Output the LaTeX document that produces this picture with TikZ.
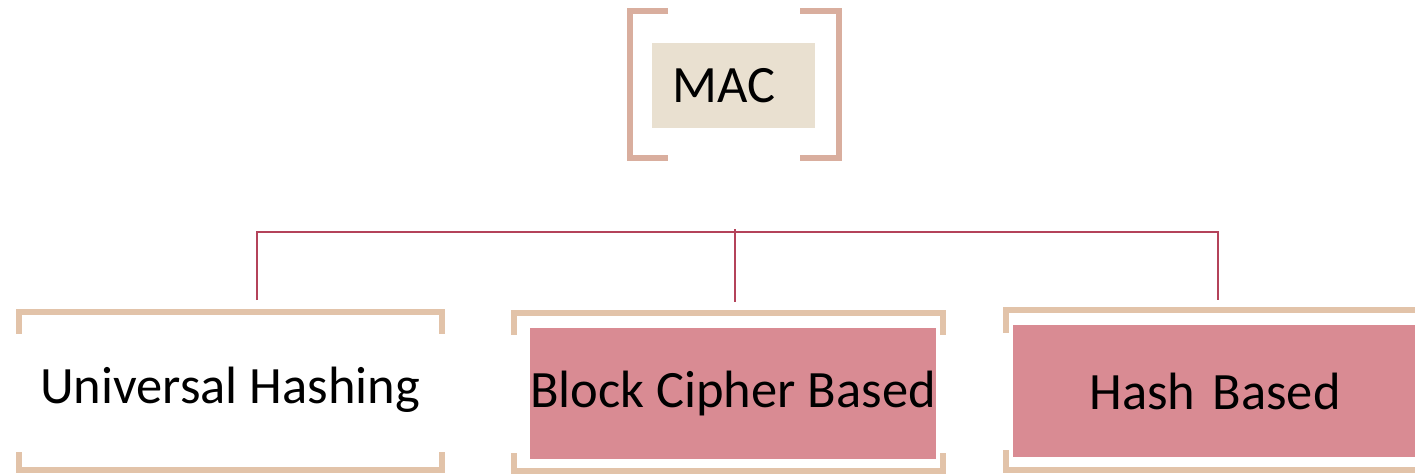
\documentclass[tikz,border=0pt]{standalone}
\usepackage{fontspec}
\setmainfont{Carlito}
\definecolor{topbracket}{HTML}{D9AE9E}
\definecolor{boxbracket}{HTML}{E2C3A9}
\definecolor{macfill}{HTML}{E9E0D0}
\definecolor{rosefill}{HTML}{D98B93}
\definecolor{treeline}{HTML}{B4435A}
\begin{document}
\begin{tikzpicture}[x=1pt,y=-1pt,
  label font/.style={font=\fontsize{52.5}{58}\selectfont, text=black},
  rosebox/.style={label font, fill=rosefill, inner sep=0pt},
  macbox/.style={label font, fill=macfill, inner sep=0pt},
  topbr/.style={draw=topbracket, line width=6pt},
  boxbr/.style={draw=boxbracket, line width=6pt},
  tree/.style={draw=treeline, line width=2pt}]
\useasboundingbox (0,0) rectangle (1415,475);

% top entry
\node[macbox, anchor=west, minimum height=85pt, text width=123pt,
      inner xsep=20pt, align=left] (mac) at (652,85.5) {MAC};
\draw[topbr] (668,11) -- (630,11) -- (630,158) -- (668,158);
\draw[topbr] (800,11) -- (839,11) -- (839,158) -- (800,158);

% three families
\node[label font, inner sep=0pt] (uh) at (230,390) {Universal Hashing};
\node[rosebox, minimum width=406pt, minimum height=131pt] (bc) at (733,393.5) {Block Cipher Based};
\node[rosebox, minimum width=404pt, minimum height=132pt, text width=396pt,
      align=center] (hb) at (1215,391) {Hash Based};

% brackets round the families
\draw[boxbr] (19,334) -- (19,312) -- (442,312) -- (442,334);
\draw[boxbr] (19,452) -- (19,470) -- (442,470) -- (442,452);
\draw[boxbr] (514,335) -- (514,313) -- (943,313) -- (943,335);
\draw[boxbr] (514,453) -- (514,471) -- (943,471) -- (943,453);
\draw[boxbr] (1006,333) -- (1006,310) -- (1425,310);
\draw[boxbr] (1006,450) -- (1006,470) -- (1425,470);

% tree connectors
\coordinate (bar) at (735,232);
\coordinate (uhtop) at (257,300);
\coordinate (bctop) at (735,302);
\coordinate (hbtop) at (1218,300);
\draw[tree] (uhtop) -- (uhtop |- bar) -- (hbtop |- bar) -- (hbtop);
\draw[tree] ([yshift=3pt]bar) -- (bctop);
\end{tikzpicture}
\end{document}
